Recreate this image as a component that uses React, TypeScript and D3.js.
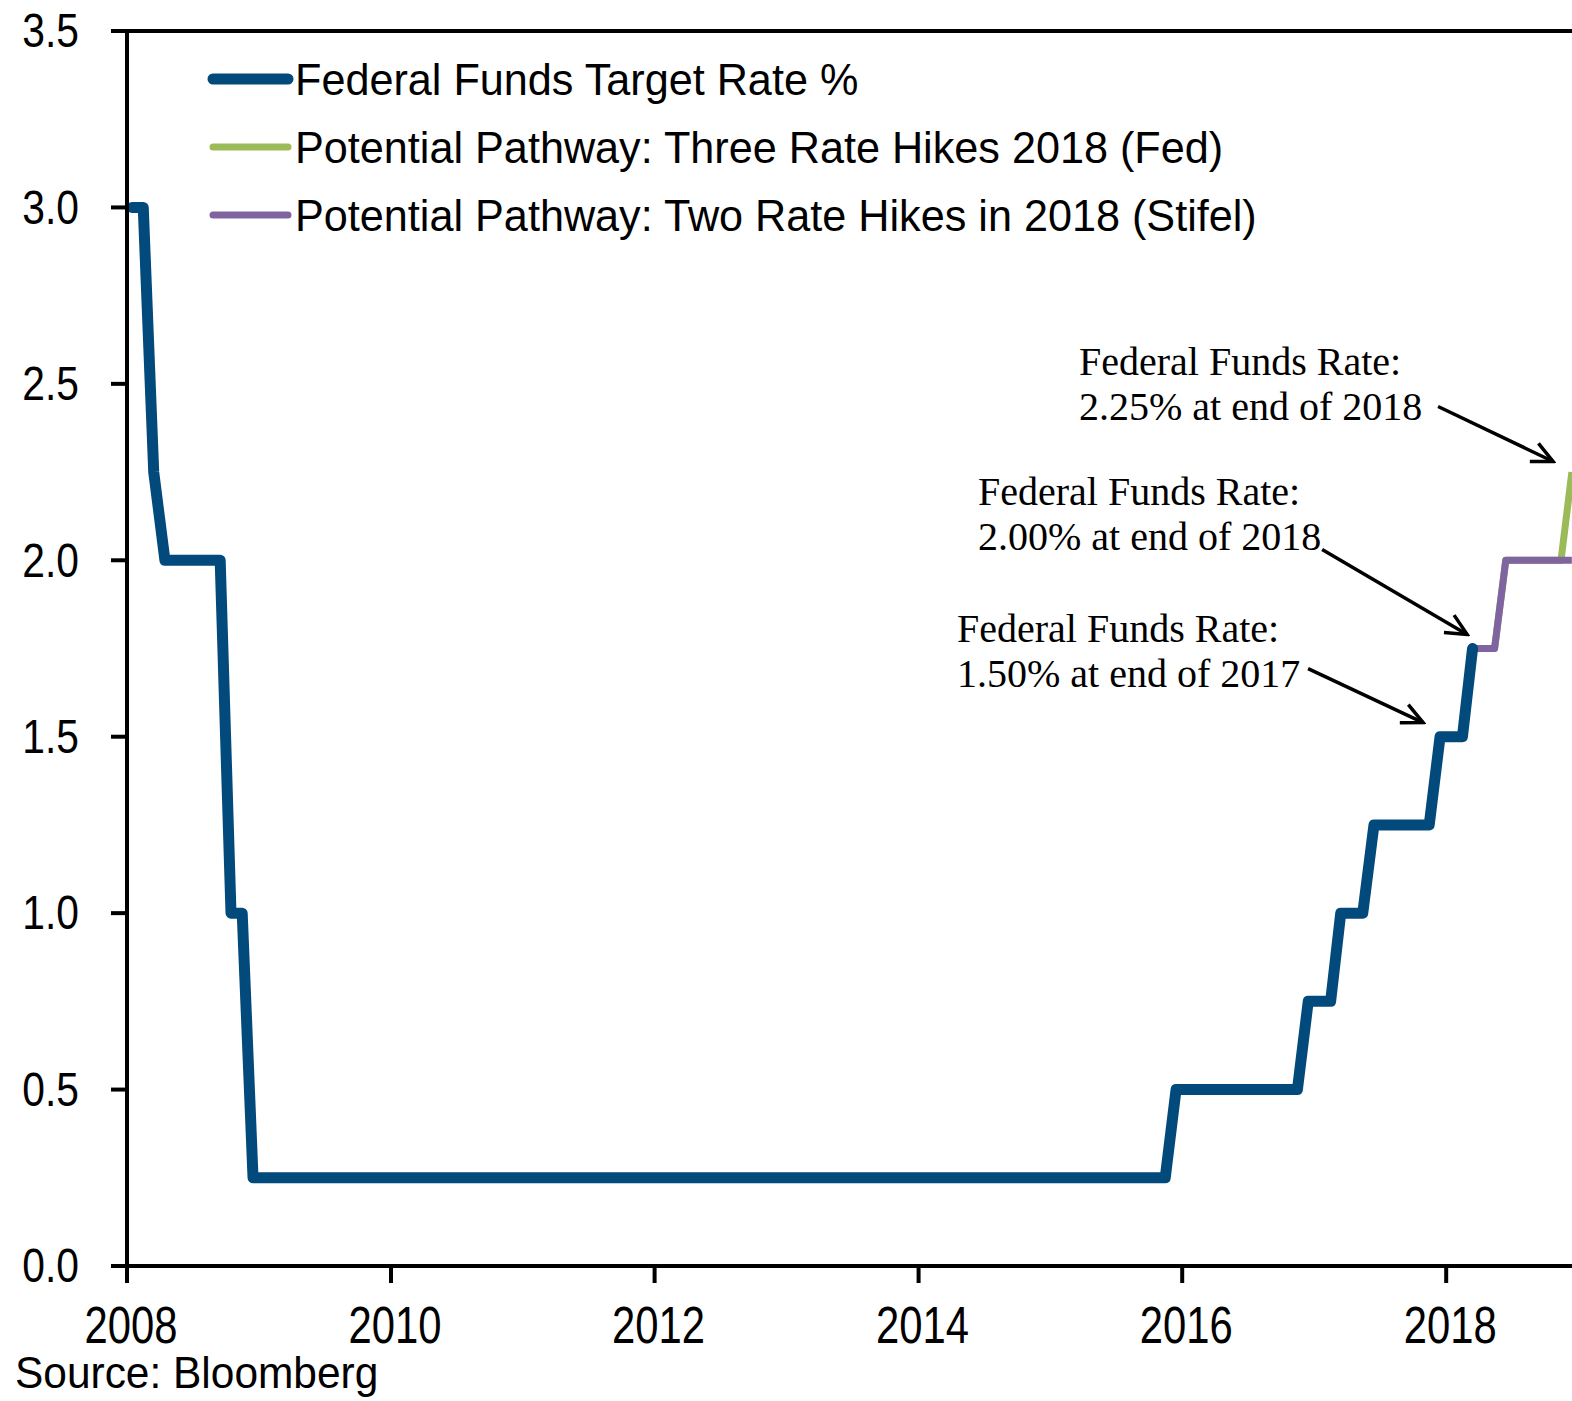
import React from "react";
import * as d3 from "d3";

const WIDTH = 1572;
const HEIGHT = 1401;
const PLOT = { left: 127, top: 31, bottom: 1266, right: 1578 };

// Federal funds target rate, month-end values plotted mid-month (vertices only)
const fedMonths = [
  "2008-01", "2008-02", "2008-03", "2008-04", "2008-09", "2008-10", "2008-11", "2008-12",
  "2015-11", "2015-12", "2016-11", "2016-12", "2017-02", "2017-03", "2017-05", "2017-06",
  "2017-11", "2017-12", "2018-02", "2018-03",
];
const fedRates = [
  3.0, 3.0, 2.25, 2.0, 2.0, 1.0, 1.0, 0.25,
  0.25, 0.5, 0.5, 0.75, 0.75, 1.0, 1.0, 1.25,
  1.25, 1.5, 1.5, 1.75,
];

// Three hikes in 2018 (Fed)
const threeHikeMonths = ["2018-03", "2018-05", "2018-06", "2018-11", "2018-12"];
const threeHikeRates = [1.75, 1.75, 2.0, 2.0, 2.25];

// Two hikes in 2018 (Stifel)
const twoHikeMonths = ["2018-03", "2018-05", "2018-06", "2018-12"];
const twoHikeRates = [1.75, 1.75, 2.0, 2.0];

const yTicks = [0, 0.5, 1.0, 1.5, 2.0, 2.5, 3.0, 3.5];
const xTickYears = [2008, 2010, 2012, 2014, 2016, 2018];

const legendLabels = [
  "Federal Funds Target Rate %",
  "Potential Pathway: Three Rate Hikes 2018 (Fed)",
  "Potential Pathway: Two Rate Hikes in 2018 (Stifel)",
];
const COLORS = { fed: "#024a7c", three: "#9bbb59", two: "#8064a2" };

const annotationText = [
  ["Federal Funds Rate:", "2.25% at end of 2018"],
  ["Federal Funds Rate:", "2.00% at end of 2018"],
  ["Federal Funds Rate:", "1.50% at end of 2017"],
];
const arrowTipDates = ["2018-10-24", "2018-02-28", "2017-10-29"];
const arrowTipValues = [2.28, 1.79, 1.54];

const parseMonth = d3.timeParse("%Y-%m");
const parseDay = d3.timeParse("%Y-%m-%d");
const midMonth = (s: string) => d3.timeDay.offset(parseMonth(s) as Date, 14);

const App = () => {
  const xScale = d3
    .scaleTime()
    .domain([new Date(2008, 0, 1), new Date(2019, 0, 1)])
    .range([PLOT.left, PLOT.right]);
  const yScale = d3.scaleLinear().domain([0, 3.5]).range([PLOT.bottom, PLOT.top]);

  const line = d3
    .line<[Date, number]>()
    .x((d) => xScale(d[0]))
    .y((d) => yScale(d[1]));

  const series = (months: string[], rates: number[]) =>
    months.map((m, i) => [midMonth(m), rates[i]] as [Date, number]);

  const sans = "'Liberation Sans', Arial, sans-serif";
  const serif = "'Liberation Serif', 'Times New Roman', serif";

  const annoPos = [
    { x: 1079, y: 375, dx: -115, dy: -55 },
    { x: 978, y: 505, dx: -145, dy: -85 },
    { x: 957, y: 642, dx: -115, dy: -54 },
  ];

  return (
    <svg
      width={WIDTH}
      height={HEIGHT}
      style={{ position: "absolute", left: 0, top: 0, background: "#fff" }}
    >
      <defs>
        <marker
          id="arrowhead"
          markerUnits="userSpaceOnUse"
          markerWidth={26}
          markerHeight={26}
          viewBox="0 0 26 26"
          refX={23}
          refY={13}
          orient="auto"
        >
          <path d="M2,3 L23,13 L2,23" fill="none" stroke="#000" strokeWidth={3.5} />
        </marker>
      </defs>

      {/* series */}
      <g fill="none" strokeLinejoin="round">
        <path d={line(series(threeHikeMonths, threeHikeRates)) || ""} stroke={COLORS.three} strokeWidth={7} />
        <path d={line(series(twoHikeMonths, twoHikeRates)) || ""} stroke={COLORS.two} strokeWidth={7} />
        <path
          d={line(series(fedMonths, fedRates)) || ""}
          stroke={COLORS.fed}
          strokeWidth={11}
          strokeLinecap="round"
        />
      </g>

      {/* axes */}
      <g stroke="#000" strokeWidth={4}>
        <line x1={PLOT.left} x2={PLOT.left} y1={PLOT.top - 2} y2={PLOT.bottom + 2} />
        <line x1={PLOT.left - 16} x2={WIDTH} y1={PLOT.top} y2={PLOT.top} />
        <line x1={PLOT.left - 16} x2={WIDTH} y1={PLOT.bottom} y2={PLOT.bottom} />
        {yTicks.map((t) => (
          <line key={t} x1={PLOT.left - 16} x2={PLOT.left} y1={yScale(t)} y2={yScale(t)} />
        ))}
        {xTickYears.map((yr) => (
          <line
            key={yr}
            x1={xScale(new Date(yr, 0, 1))}
            x2={xScale(new Date(yr, 0, 1))}
            y1={PLOT.bottom}
            y2={PLOT.bottom + 17}
          />
        ))}
      </g>

      <g fontFamily={sans} fill="#000">
        {yTicks.map((t) => (
          <text
            key={t}
            transform={`translate(79,${yScale(t)}) scale(0.85,1)`}
            textAnchor="end"
            dy="0.34em"
            fontSize={48}
          >
            {d3.format(".1f")(t)}
          </text>
        ))}
        {xTickYears.map((yr) => (
          <text
            key={yr}
            transform={`translate(${xScale(new Date(yr, 0, 1)) + 4},1343) scale(0.82,1)`}
            textAnchor="middle"
            fontSize={51}
          >
            {yr}
          </text>
        ))}
        <text transform="translate(15,1388) scale(0.965,1)" fontSize={44}>
          Source: Bloomberg
        </text>
      </g>

      {/* legend */}
      <g fontFamily={sans}>
        {legendLabels.map((label, i) => (
          <g key={label} transform={`translate(0,${79 + i * 68})`}>
            <line
              x1={213}
              x2={288}
              y1={0}
              y2={0}
              stroke={[COLORS.fed, COLORS.three, COLORS.two][i]}
              strokeWidth={i === 0 ? 11 : 7}
              strokeLinecap="round"
            />
            <text transform="translate(295,16) scale(0.96,1)" fontSize={45} fill="#000">
              {label}
            </text>
          </g>
        ))}
      </g>

      {/* annotations */}
      <g fontFamily={serif} fontSize={40} fill="#000">
        {annotationText.map((lines, i) => {
          const tx = xScale(parseDay(arrowTipDates[i]) as Date);
          const ty = yScale(arrowTipValues[i]);
          const p = annoPos[i];
          return (
            <g key={i}>
              {lines.map((l, j) => (
                <text key={j} x={p.x} y={p.y + j * 45}>
                  {l}
                </text>
              ))}
              <line
                x1={tx + p.dx}
                y1={ty + p.dy}
                x2={tx}
                y2={ty}
                stroke="#000"
                strokeWidth={3.5}
                markerEnd="url(#arrowhead)"
              />
            </g>
          );
        })}
      </g>
    </svg>
  );
};

export default App;
